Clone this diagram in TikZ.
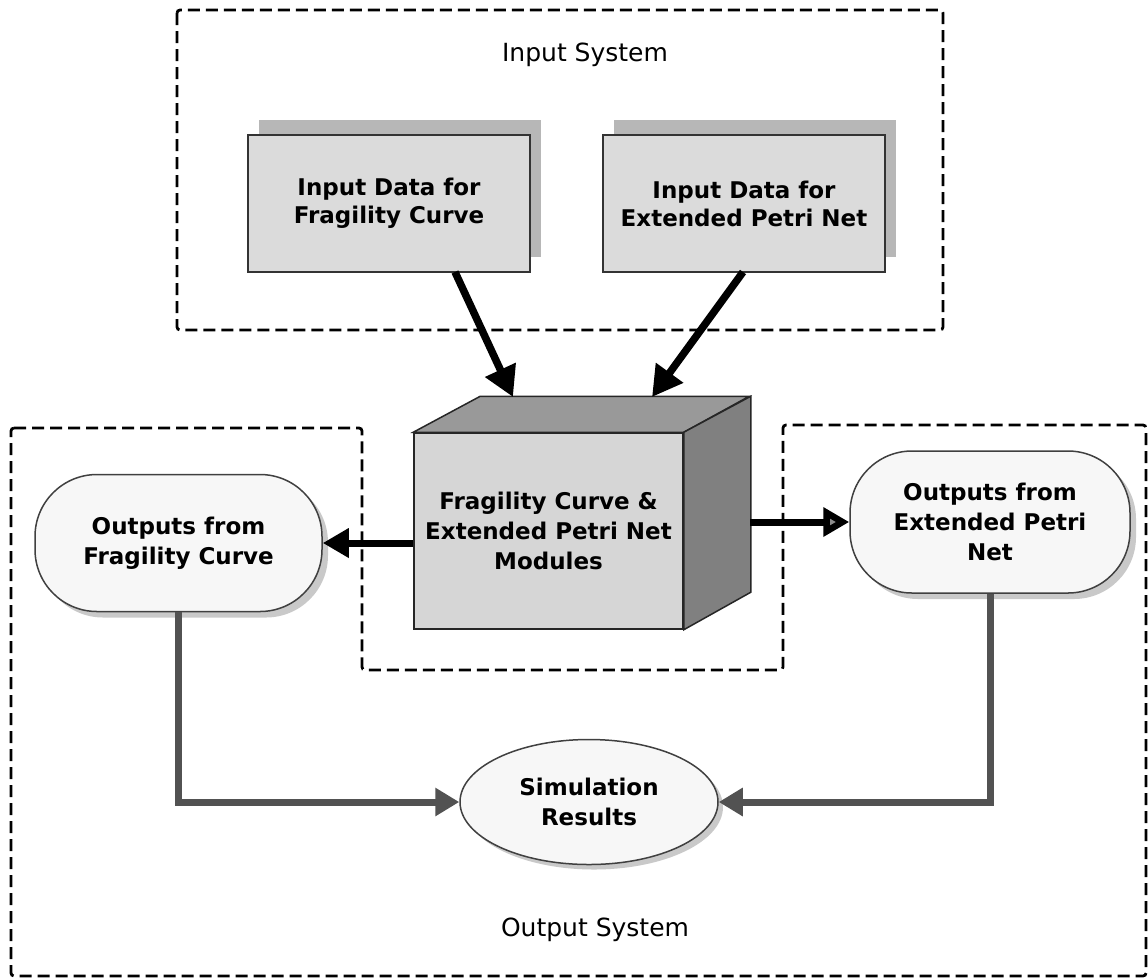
\documentclass[tikz,border=0pt]{standalone}
\usepackage{fontspec}
\setmainfont{DejaVu Sans}
\usetikzlibrary{arrows.meta,calc,shadows,shapes.geometric}
\begin{document}
\begin{tikzpicture}[x=1pt,y=-1pt,
  dashbox/.style={draw=black,line width=2.8pt,dash pattern=on 12pt off 6pt,rounded corners=3pt},
  title/.style={font=\fontsize{25}{30}\selectfont},
  inbox/.style={draw=black!80,line width=1.5pt,fill=black!14,minimum width=282pt,minimum height=137pt,align=center,inner sep=0pt,font=\fontsize{23}{28}\selectfont\bfseries,
    general shadow={shadow xshift=11pt,shadow yshift=15pt,fill=black!40,opacity=0.7}},
  cubefront/.style={draw=black!85,line width=1.5pt,fill=black!16,minimum width=269pt,minimum height=196pt,align=center,inner sep=0pt,font=\fontsize{23}{30}\selectfont\bfseries},
  capsule/.style={draw=black!75,line width=1.5pt,fill=black!3,rounded corners=62pt,align=center,inner sep=0pt,font=\fontsize{23}{30}\selectfont\bfseries,
    general shadow={shadow xshift=6pt,shadow yshift=-6pt,fill=black!35,opacity=0.6}},
  simnode/.style={ellipse,draw=black!75,line width=1.5pt,fill=black!3,minimum width=258pt,minimum height=125pt,inner sep=0pt,align=center,font=\fontsize{23}{30}\selectfont\bfseries,
    general shadow={shadow xshift=5pt,shadow yshift=-5pt,fill=black!35,opacity=0.6}},
  bigarrow/.style={line width=7.5pt,black,-{Triangle[length=30pt,width=32pt]}},
  midarrow/.style={line width=7pt,black,-{Triangle[length=26pt,width=28pt]}},
  grayarrow/.style={line width=7pt,black!68,-{Triangle[length=24pt,width=27pt]}}
]
\fill[white] (0,0) rectangle (1148,978);
\useasboundingbox (0,0) rectangle (1148,978);

% Input system
\draw[dashbox] (177,10) rectangle (943,330);
\node[title] (intitle) at (585,55) {Input System};
\node[inbox] (in1) at (389,203.5) {Input Data for\\Fragility Curve};
\node[inbox] (in2) at (744,203.5) {Input Data for\\Extended Petri Net};

% Output system outline
\draw[dashbox] (11,428) -- (362,428) -- (362,670) -- (783,670) -- (783,425) -- (1146,425) -- (1146,976) -- (11,976) -- cycle;
\node[title] (outtitle) at (595,930) {Output System};

% Cube
\node[cubefront] (cube) at (548.5,531) {Fragility Curve \&\\Extended Petri Net\\Modules};
\filldraw[draw=black!85,line width=1.5pt,fill=black!40] (cube.north west) -- ++(67,-36) -- ++(269,0) -- (cube.north east) -- cycle;
\filldraw[draw=black!85,line width=1.5pt,fill=black!50] (cube.north east) -- ++(67,-36) -- ++(0,196) -- (cube.south east) -- cycle;

% Output nodes
\node[capsule,minimum width=287pt,minimum height=137pt] (lcap) at (178.5,543) {Outputs from\\Fragility Curve};
\node[capsule,minimum width=280pt,minimum height=142pt] (rcap) at (990,522) {Outputs from\\Extended Petri\\Net};
\node[simnode] (sim) at (589,802) {Simulation\\Results};

% Connectors
\coordinate (s1) at (455,272);
\coordinate (t1) at (513,397);
\coordinate (s2) at (743,272);
\coordinate (t2) at (652,397);
\coordinate (cr) at (750,522);
\draw[bigarrow] (s1) -- (t1);
\draw[bigarrow] (s2) -- (t2);
\draw[midarrow] (cube.west |- lcap.east) -- (lcap.east);
\draw[line width=7pt,black,-{Triangle[length=26pt,width=28pt,fill=black!45]}] (cr) -- (rcap.west);
\draw[grayarrow] (lcap.south) |- (sim.west);
\draw[grayarrow] (rcap.south) |- (sim.east);
\end{tikzpicture}
\end{document}
